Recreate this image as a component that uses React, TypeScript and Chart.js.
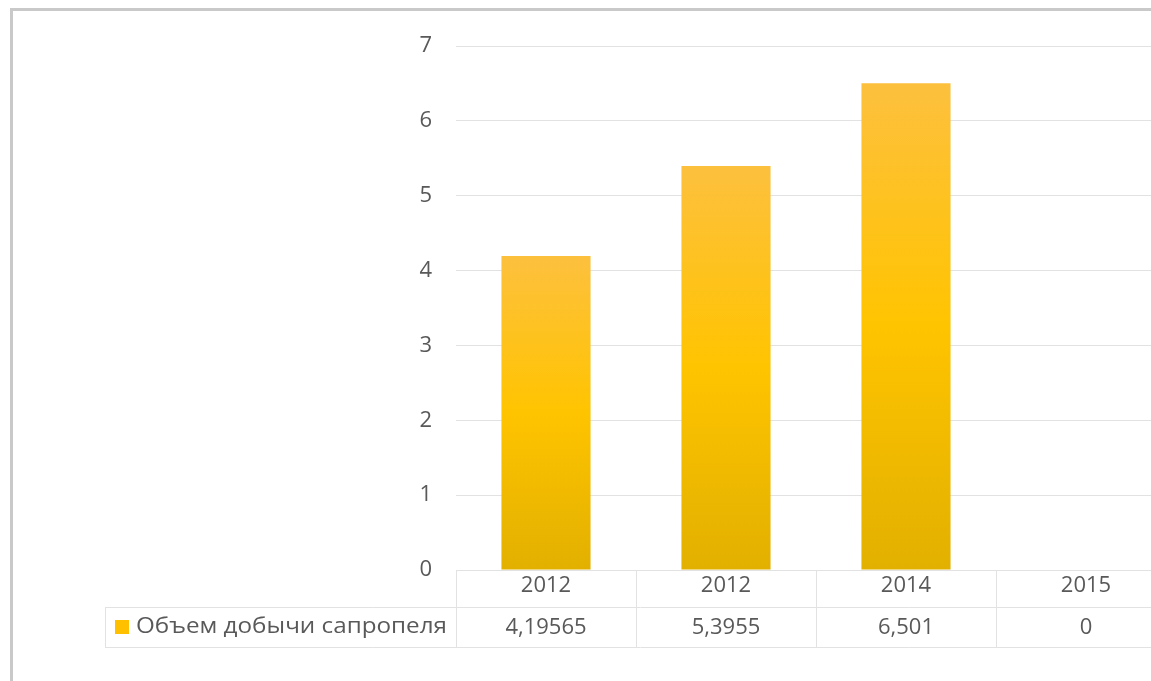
import React, { useEffect, useRef } from "react";
import { Chart, registerables } from "chart.js";

Chart.register(...registerables);

const categories = ["2012", "2012", "2014", "2015"];
const values = [4.19565, 5.3955, 6.501, 0];
const valueLabels = ["4,19565", "5,3955", "6,501", "0"];
const seriesName = "Объем добычи сапропеля";
const yTicks = [0, 1, 2, 3, 4, 5, 6, 7];

const FONT = "'Open Sans', sans-serif";
const TEXT = "#595959";
const LINE = "#e2e2e2";
const SIZE = 22;

const tablePlugin = {
  id: "dataTable",
  beforeDraw(chart: any) {
    const { ctx } = chart;
    ctx.save();
    ctx.fillStyle = "#ffffff";
    ctx.fillRect(0, 0, chart.width, chart.height);
    // outer frame
    ctx.fillStyle = "#c9c9c9";
    ctx.fillRect(10, 8, chart.width, 3);
    ctx.fillRect(10, 8, 3, chart.height);
    ctx.restore();
  },
  afterDraw(chart: any) {
    const { ctx, chartArea, scales } = chart;
    const x = scales.x;
    const top = chartArea.bottom;
    const mid = top + 37;
    const bot = top + 77;
    const legendLeft = 105;
    const step = (chartArea.right - chartArea.left) / categories.length;
    ctx.save();
    ctx.strokeStyle = LINE;
    ctx.lineWidth = 1;
    ctx.beginPath();
    ctx.moveTo(chartArea.left, top + 0.5);
    ctx.lineTo(chartArea.right, top + 0.5);
    ctx.moveTo(legendLeft, mid + 0.5);
    ctx.lineTo(chartArea.right, mid + 0.5);
    ctx.moveTo(legendLeft, bot + 0.5);
    ctx.lineTo(chartArea.right, bot + 0.5);
    ctx.moveTo(legendLeft + 0.5, mid);
    ctx.lineTo(legendLeft + 0.5, bot);
    for (let i = 0; i <= categories.length; i++) {
      const xx = Math.round(chartArea.left + i * step) + 0.5;
      ctx.moveTo(xx, top);
      ctx.lineTo(xx, bot);
    }
    ctx.stroke();

    // legend key
    const rowY = (mid + bot) / 2;
    ctx.fillStyle = "#FFC000";
    ctx.fillRect(115, rowY - 7, 14, 14);
    ctx.fillStyle = TEXT;
    ctx.textBaseline = "middle";
    ctx.textAlign = "left";
    ctx.font = `${SIZE}px ${FONT}`;
    const w = ctx.measureText(seriesName).width;
    const target = 311;
    ctx.save();
    ctx.translate(136, rowY);
    ctx.scale(target / w, 1);
    ctx.fillText(seriesName, 0, 0);
    ctx.restore();

    ctx.textAlign = "center";
    valueLabels.forEach((lbl, i) => {
      ctx.fillText(lbl, x.getPixelForValue(i), rowY + 1);
    });
    ctx.restore();
  },
};

export default function App() {
  const ref = useRef<HTMLCanvasElement | null>(null);

  useEffect(() => {
    const canvas = ref.current!;
    const chart = new Chart(canvas, {
      type: "bar",
      data: {
        labels: categories,
        datasets: [
          {
            label: seriesName,
            data: values,
            backgroundColor: (c: any) => {
              const ch = c.chart;
              const ys = ch.scales?.y;
              if (!ys || c.type !== "data") return "#FFC000";
              const t = ys.getPixelForValue(c.raw);
              const b = ys.getPixelForValue(0);
              if (!(b > t)) return "#FFC000";
              const g = ch.ctx.createLinearGradient(0, t, 0, b);
              g.addColorStop(0, "#FDC03E");
              g.addColorStop(0.5, "#FFC400");
              g.addColorStop(1, "#E2B000");
              return g;
            },
            borderWidth: 0,
            barPercentage: 0.495,
            categoryPercentage: 1,
          },
        ],
      },
      options: {
        animation: false,
        responsive: false,
        maintainAspectRatio: false,
        layout: { padding: { top: 46, right: 24, bottom: 0, left: 0 } },
        plugins: {
          legend: { display: false },
          tooltip: { enabled: false },
        },
        scales: {
          x: {
            grid: { display: false, drawTicks: false },
            border: { display: false },
            ticks: {
              color: TEXT,
              font: { family: FONT, size: SIZE },
              padding: 3,
            },
            afterFit: (s: any) => {
              s.height = 111;
            },
          },
          y: {
            min: 0,
            max: 7,
            afterBuildTicks: (s: any) => {
              s.ticks = yTicks.map((v) => ({ value: v }));
            },
            grid: { color: LINE, drawTicks: false },
            border: { display: false },
            ticks: {
              color: TEXT,
              font: { family: FONT, size: SIZE },
              padding: 24,
            },
            afterFit: (s: any) => {
              s.width = 456;
            },
          },
        },
      },
      plugins: [tablePlugin],
    });
    return () => chart.destroy();
  }, []);

  return (
    <div
      style={{
        position: "fixed",
        left: 0,
        top: 0,
        width: 1151,
        height: 681,
        overflow: "hidden",
        background: "#fff",
      }}
    >
      <canvas ref={ref} width={1200} height={681} style={{ width: 1200, height: 681, display: "block" }} />
    </div>
  );
}
